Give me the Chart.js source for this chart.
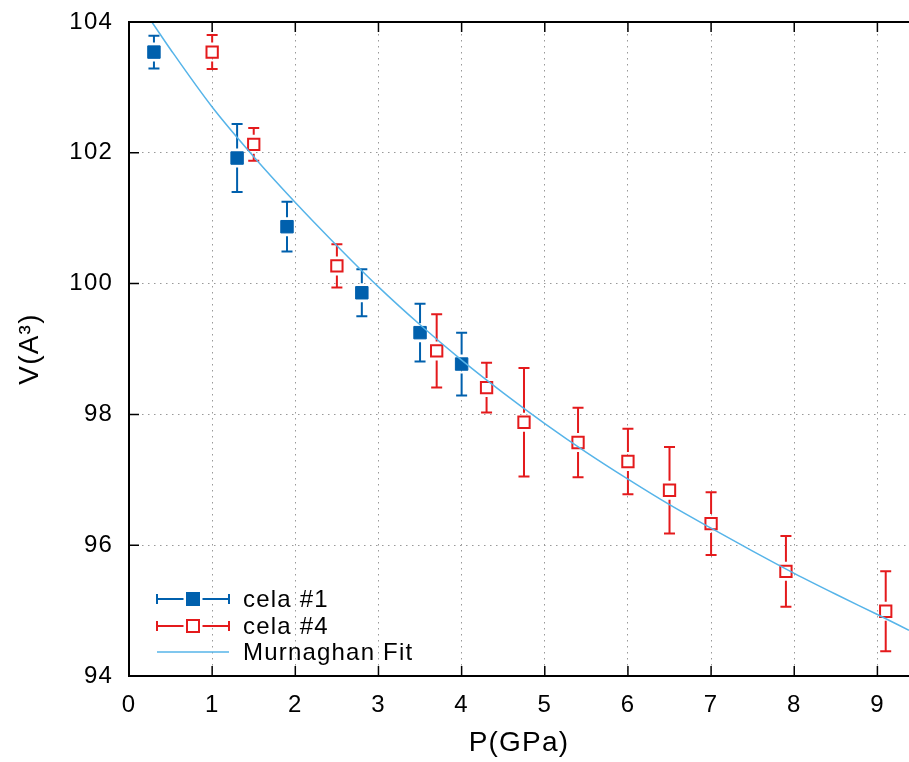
<!DOCTYPE html>
<html>
<head>
<meta charset="utf-8">
<script src="https://cdn.jsdelivr.net/npm/chart.js@4.4.1/dist/chart.umd.min.js"></script>
<style>
html, body { margin: 0; padding: 0; background: #fff; overflow: hidden; }
canvas { display: block; }
</style>
</head>
<body>
<canvas id="chart" width="909" height="762"></canvas>
<script>
// ticks
const xTicks = [0, 1, 2, 3, 4, 5, 6, 7, 8, 9];
const yTicks = [94, 96, 98, 100, 102, 104];

// cela #1
const cela1P = [0.30, 1.30, 1.90, 2.80, 3.50, 4.00];
const cela1V = [103.54, 101.92, 100.87, 99.86, 99.25, 98.77];
const cela1Err = [0.25, 0.52, 0.38, 0.36, 0.44, 0.48];

// cela #4
const cela4P = [1.00, 1.50, 2.50, 3.70, 4.30, 4.75, 5.40, 6.00, 6.50, 7.00, 7.90, 9.10];
const cela4V = [103.54, 102.13, 100.27, 98.97, 98.41, 97.88, 97.57, 97.28, 96.84, 96.33, 95.60, 94.99];
const cela4Err = [0.26, 0.25, 0.33, 0.56, 0.38, 0.83, 0.53, 0.50, 0.66, 0.48, 0.54, 0.61];

// Murnaghan fit
const fitP = [0.275, 0.5, 1.0, 1.5, 2.0, 2.5, 3.0, 3.5, 4.0, 4.5, 5.0, 5.5, 6.0, 6.5, 7.0, 7.5, 8.0, 8.5, 9.0, 9.38];
const fitV = [104.00, 103.58, 102.70, 101.94, 101.24, 100.58, 99.95, 99.37, 98.83, 98.33, 97.86, 97.42, 97.01, 96.62, 96.26, 95.91, 95.57, 95.25, 94.94, 94.70];

const BLUE = '#0060ad';
const RED = '#e41a1c';
const CYAN = '#56b4e9';
const FONT = "'Liberation Sans', Arial, sans-serif";

const toXY = (xs, ys) => xs.map((x, i) => ({x: x, y: ys[i]}));

// error bars, inward ticks, top border and legend
const gnuplotBits = {
    id: 'gnuplotBits',
    beforeDraw(chart) {
        chart.ctx.letterSpacing = '1.2px';
    },
    beforeDatasetsDraw(chart) {
        const ctx = chart.ctx;
        const xs = chart.scales.x, ys = chart.scales.y;
        const bars = [[cela1P, cela1V, cela1Err, BLUE], [cela4P, cela4V, cela4Err, RED]];
        const gap = 9.5, cap = 5.5;
        ctx.save();
        ctx.lineWidth = 2;
        for (let [ps, vs, es, col] of bars) {
            ctx.strokeStyle = col;
            ps.forEach((p, i) => {
                const px = xs.getPixelForValue(p);
                const py = ys.getPixelForValue(vs[i]);
                const top = ys.getPixelForValue(vs[i] + es[i]);
                const bot = ys.getPixelForValue(vs[i] - es[i]);
                ctx.beginPath();
                if (py - top > gap) { ctx.moveTo(px, top); ctx.lineTo(px, py - gap); }
                if (bot - py > gap) { ctx.moveTo(px, py + gap); ctx.lineTo(px, bot); }
                ctx.moveTo(px - cap, top); ctx.lineTo(px + cap, top);
                ctx.moveTo(px - cap, bot); ctx.lineTo(px + cap, bot);
                ctx.stroke();
            });
        }
        ctx.restore();
    },
    afterDraw(chart) {
        const ctx = chart.ctx;
        const a = chart.chartArea;
        const xs = chart.scales.x, ys = chart.scales.y;
        ctx.save();
        // top border
        ctx.strokeStyle = '#000';
        ctx.lineWidth = 2;
        ctx.beginPath();
        ctx.moveTo(a.left - 1, a.top);
        ctx.lineTo(a.right, a.top);
        ctx.stroke();
        // inward ticks
        ctx.lineWidth = 1.5;
        ctx.beginPath();
        for (let t of xTicks) {
            if (t === 0) continue;
            const px = xs.getPixelForValue(t);
            ctx.moveTo(px, a.bottom); ctx.lineTo(px, a.bottom - 10);
            ctx.moveTo(px, a.top); ctx.lineTo(px, a.top + 10);
        }
        for (let t of yTicks) {
            if (t === 94 || t === 104) continue;
            const py = ys.getPixelForValue(t);
            ctx.moveTo(a.left, py); ctx.lineTo(a.left + 10, py);
        }
        ctx.stroke();

        // legend
        const lx0 = 157, lx1 = 229, mx = 193;
        const rows = [
            {y: 599, col: BLUE, fill: BLUE, text: 'cela #1'},
            {y: 626, col: RED, fill: '#fff', text: 'cela #4'},
            {y: 652, col: CYAN, text: 'Murnaghan Fit'}
        ];
        ctx.font = '24px ' + FONT;
        ctx.letterSpacing = '1.2px';
        ctx.textBaseline = 'middle';
        for (let r of rows) {
            ctx.strokeStyle = r.col;
            if (r.fill) {
                ctx.lineWidth = 2;
                ctx.beginPath();
                ctx.moveTo(lx0, r.y); ctx.lineTo(mx - 9.5, r.y);
                ctx.moveTo(mx + 9.5, r.y); ctx.lineTo(lx1, r.y);
                ctx.moveTo(lx0, r.y - 5); ctx.lineTo(lx0, r.y + 5);
                ctx.moveTo(lx1, r.y - 5); ctx.lineTo(lx1, r.y + 5);
                ctx.stroke();
                ctx.fillStyle = r.fill;
                ctx.fillRect(mx - 6, r.y - 6, 12, 12);
                ctx.strokeRect(mx - 6, r.y - 6, 12, 12);
            } else {
                ctx.lineWidth = 1.5;
                ctx.beginPath();
                ctx.moveTo(lx0, r.y); ctx.lineTo(lx1, r.y);
                ctx.stroke();
            }
            ctx.fillStyle = '#000';
            ctx.fillText(r.text, 243, r.y + 1);
        }
        ctx.restore();
    }
};

const ctx = document.getElementById('chart').getContext('2d');
new Chart(ctx, {
    type: 'scatter',
    data: {
        datasets: [
            {
                label: 'Murnaghan Fit',
                data: toXY(fitP, fitV),
                showLine: true,
                borderColor: CYAN,
                borderWidth: 1.5,
                pointRadius: 0,
                cubicInterpolationMode: 'monotone',
                order: 0
            },
            {
                label: 'cela #1',
                data: toXY(cela1P, cela1V),
                pointStyle: 'rect',
                pointRadius: 8.8,
                backgroundColor: BLUE,
                borderColor: BLUE,
                borderWidth: 1,
                order: 1
            },
            {
                label: 'cela #4',
                data: toXY(cela4P, cela4V),
                pointStyle: 'rect',
                pointRadius: 8,
                backgroundColor: '#fff',
                borderColor: RED,
                borderWidth: 2,
                order: 1
            }
        ]
    },
    options: {
        responsive: false,
        animation: false,
        layout: { autoPadding: false, padding: { top: 22, right: 0, left: 0, bottom: 0 } },
        plugins: {
            legend: { display: false },
            tooltip: { enabled: false }
        },
        scales: {
            x: {
                type: 'linear',
                min: 0,
                max: 9.38,
                afterFit(scale) {
                    scale.height = 86;
                    scale.paddingLeft = 0;
                    scale.paddingRight = 0;
                },
                ticks: {
                    stepSize: 1,
                    includeBounds: false,
                    color: '#000',
                    padding: 15,
                    font: { family: FONT, size: 24 }
                },
                grid: { color: '#999', lineWidth: 1, drawTicks: false },
                border: { display: true, color: '#000', width: 2, dash: [1.5, 4.5] },
                title: {
                    display: true,
                    text: 'P(GPa)',
                    color: '#000',
                    font: { family: FONT, size: 28 },
                    padding: { top: 0, bottom: 2 }
                }
            },
            y: {
                min: 94,
                max: 104,
                afterFit(scale) {
                    scale.width = 129;
                    scale.paddingTop = 0;
                    scale.paddingBottom = 0;
                },
                ticks: {
                    stepSize: 2,
                    color: '#000',
                    padding: 16,
                    font: { family: FONT, size: 24 }
                },
                grid: { color: '#999', lineWidth: 1, drawTicks: false },
                border: { display: true, color: '#000', width: 2, dash: [1.5, 4.5] },
                title: {
                    display: true,
                    text: 'V(A³)',
                    color: '#000',
                    font: { family: FONT, size: 28 },
                    padding: { top: 13, bottom: 0 }
                }
            }
        }
    },
    plugins: [gnuplotBits]
});
</script>
</body>
</html>
